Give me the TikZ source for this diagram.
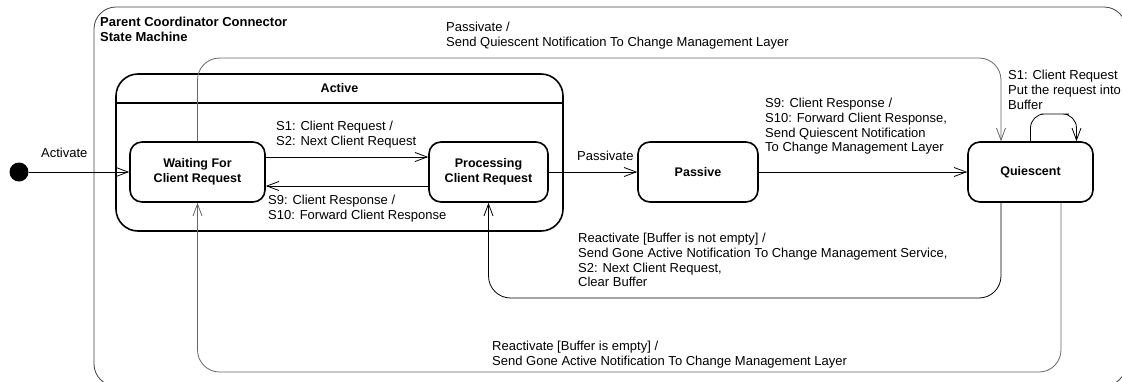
\documentclass[tikz,border=0pt]{standalone}
\usepackage{fontspec}
\setmainfont{Liberation Sans}
\usetikzlibrary{arrows.meta}
\newcommand{\bends}{
    \coordinate (b0) at (600,58);   % passivate, over the top
    \coordinate (b1) at (1055,114); % self loop on quiescent
    \coordinate (b2) at (750,298);  % reactivate, buffer not empty
    \coordinate (b3) at (600,372);  % reactivate, buffer empty
}

\begin{document}
\begin{tikzpicture}[x=1pt,y=-1pt,
    every node/.style={font=\fontsize{13}{14.7}\selectfont},
    state/.style={draw,line width=1.6pt,rounded corners=12pt,minimum height=60pt,
        font=\fontsize{12.5}{15}\selectfont\bfseries,align=center},
    lbl/.style={anchor=north west,inner sep=0pt,align=left},
    trans/.style={line width=0.8pt,-{Straight Barb[length=12pt,width=9pt]}},
    ]
    \useasboundingbox (0,0) rectangle (1122,381);
    \bends

    % frames
    \node[draw,line width=0.8pt,black!75,rounded corners=22pt,
        minimum width=1032pt,minimum height=379pt] (parent) at (610,196.5) {};
    \node[lbl,font=\fontsize{13}{15}\selectfont\bfseries] (title) at (100,17)
        {Parent Coordinator Connector\\State Machine};

    \node[draw,line width=1.6pt,rounded corners=22pt,
        minimum width=447pt,minimum height=157pt] (active) at (339.5,152.5) {};
    \draw[line width=1.6pt] ([yshift=-30pt]active.north west) -- ([yshift=-30pt]active.north east);
    \node[font=\fontsize{12.5}{15}\selectfont\bfseries] (activeName) at ([yshift=-15pt]active.north) {Active};

    % states
    \node[circle,fill,inner sep=0pt,minimum size=19pt] (init) at (19,172) {};
    \node[state,minimum width=135pt] (wait)    at (197.5,172) {Waiting For\\Client Request};
    \node[state,minimum width=119pt] (proc)    at (488.5,172) {Processing\\Client Request};
    \node[state,minimum width=120pt] (passive) at (698,172)   {Passive};
    \node[state,minimum width=125pt] (quies)   at (1030.5,172) {Quiescent};

    % transitions
    \draw[trans] (init) -- (wait);
    \draw[trans] ([yshift=15pt]wait.east) -- ([yshift=15pt]proc.west);
    \draw[trans] ([yshift=-14pt]proc.west) -- ([yshift=-14pt]wait.east);
    \draw[trans] (proc) -- (passive);
    \draw[trans] (passive) -- (quies);
    \draw[trans,black!60,rounded corners=22pt] (wait.north) |- (b0) -| ([xshift=-29.5pt]quies.north);
    \draw[trans,rounded corners=14pt] (quies.north) |- (b1) -| ([xshift=46pt]quies.north);
    \draw[trans,rounded corners=22pt] ([xshift=-29.5pt]quies.south) |- (b2) -| (proc.south);
    \draw[trans,black!60,rounded corners=22pt] ([xshift=30.5pt]quies.south) |- (b3) -| (wait.south);

    % labels
    \node[lbl] (lblInit)    at (41,148)  {Activate};
    \node[lbl] (lblReq)     at (276,121) {S1: Client Request /\\S2: Next Client Request};
    \node[lbl] (lblResp)    at (268,195) {S9: Client Response /\\S10: Forward Client Response};
    \node[lbl] (lblPass)    at (577,151) {Passivate};
    \node[lbl] (lblPassTop) at (446,22)  {Passivate /\\Send Quiescent Notification To Change Management Layer};
    \node[lbl] (lblQuies)   at (765,98)  {S9: Client Response /\\S10: Forward Client Response,\\Send Quiescent Notification\\To Change Management Layer};
    \node[lbl] (lblLoop)    at (1008,70) {S1: Client Request\\Put the request into\\Buffer};
    \node[lbl] (lblFull)    at (578,233) {Reactivate [Buffer is not empty] /\\Send Gone Active Notification To Change Management Service,\\S2: Next Client Request,\\Clear Buffer};
    \node[lbl] (lblEmpty)   at (492,341) {Reactivate [Buffer is empty] /\\Send Gone Active Notification To Change Management Layer};
\end{tikzpicture}
\end{document}
